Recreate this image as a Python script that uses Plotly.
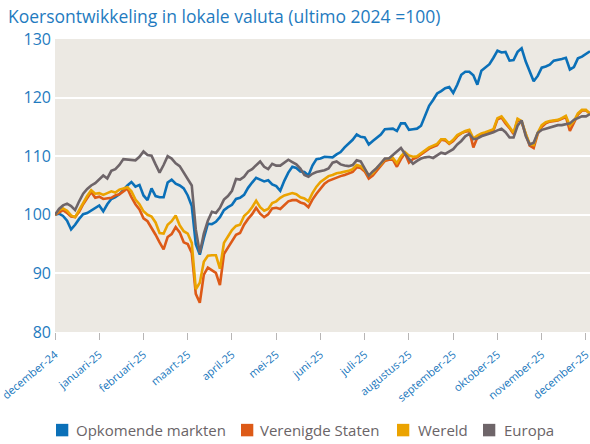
import plotly.graph_objects as go

# trading-day index (every 2nd trading day), 22 trading days per month tick
trading_day = list(range(0, 267, 2))

month_ticks = list(range(0, 265, 22))
month_labels = ["december-24", "januari-25", "februari-25", "maart-25", "april-25", "mei-25",
                "juni-25", "juli-25", "augustus-25", "september-25", "oktober-25",
                "november-25", "december-25"]

series_names = ["Opkomende markten", "Verenigde Staten", "Wereld", "Europa"]
series_colors = ["#0b70b8", "#dd5a17", "#eba300", "#6e6569"]

opkomende_markten = [
    100.0, 100.2, 99.8, 99.0, 97.5, 98.3, 99.3, 100.1, 100.3, 100.7,
    101.2, 101.6, 100.6, 101.8, 102.7, 103.0, 103.5, 104.3, 105.0, 105.6,
    104.8, 105.1, 103.3, 102.5, 104.5, 103.2, 103.0, 103.0, 105.5, 106.0,
    105.3, 105.0, 104.5, 103.3, 101.5, 95.0, 93.2, 96.0, 98.5, 98.4,
    98.8, 99.6, 100.8, 101.3, 101.7, 102.7, 102.9, 103.4, 104.6, 105.5,
    106.3, 106.0, 105.7, 105.9, 105.2, 104.9, 104.1, 105.8, 107.2, 108.2,
    108.0, 107.4, 107.3, 106.7, 108.4, 109.5, 109.6, 109.9, 109.9, 109.8,
    110.3, 110.7, 111.5, 112.2, 112.8, 113.7, 113.3, 113.2, 112.0, 112.6,
    113.2, 113.7, 114.6, 114.7, 114.7, 114.3, 115.6, 115.6, 114.5, 114.6,
    114.7, 115.2, 117.0, 118.6, 119.6, 120.7, 121.1, 121.6, 121.8, 120.8,
    122.2, 123.9, 124.4, 124.4, 123.8, 122.2, 124.6, 125.1, 125.7, 126.8,
    128.0, 127.7, 127.8, 126.3, 126.4, 127.8, 128.4, 126.2, 124.4, 122.8,
    123.7, 125.1, 125.3, 125.6, 126.3, 126.4, 126.6, 126.8, 124.8, 125.2,
    126.7, 127.0, 127.5, 127.9,
]

verenigde_staten = [
    100.0, 100.4, 100.8, 100.3, 99.7, 99.6, 100.5, 101.8, 102.9, 103.9,
    102.9, 103.1, 102.7, 102.8, 102.9, 103.3, 103.5, 104.0, 104.5, 103.0,
    101.8, 100.9, 99.4, 98.9, 97.8, 96.6, 95.3, 94.1, 96.2, 96.7,
    97.9, 97.0, 95.3, 95.0, 93.5, 86.5, 85.0, 89.8, 91.0, 90.6,
    90.1, 88.0, 93.3, 94.4, 95.5, 96.6, 96.9, 98.3, 99.3, 100.1,
    101.2, 100.2, 99.6, 100.1, 101.1, 101.2, 101.0, 101.6, 102.3, 102.5,
    102.5, 102.1, 101.9, 101.3, 102.6, 103.6, 104.4, 105.3, 105.8, 106.1,
    106.4, 106.6, 106.8, 107.0, 107.3, 108.1, 108.0, 107.4, 106.2, 106.7,
    107.6, 108.3, 109.2, 109.4, 109.4, 108.2, 109.5, 110.5, 108.9, 109.5,
    109.8, 110.3, 110.8, 111.3, 111.6, 111.9, 112.8, 112.7, 112.1, 112.6,
    113.4, 113.9, 114.2, 114.3, 111.5, 113.2, 113.6, 113.9, 114.2, 114.4,
    116.3, 116.6, 115.6, 114.8, 113.8, 116.2, 115.8, 113.7, 111.8, 111.4,
    113.8, 115.0, 115.6, 115.9, 116.0, 116.1, 116.4, 116.7, 114.3, 115.8,
    117.1, 117.8, 117.8, 117.3,
]

wereld = [
    100.0, 100.8, 101.1, 100.7, 99.9, 99.6, 100.8, 102.1, 103.2, 104.2,
    103.6, 103.7, 103.4, 103.7, 104.0, 103.8, 104.3, 104.5, 104.7, 104.0,
    102.6, 101.8, 100.6, 100.0, 99.7, 98.7, 96.9, 96.8, 98.3, 98.9,
    99.9, 98.2, 97.2, 96.8, 95.2, 87.3, 88.4, 92.0, 93.0, 93.1,
    93.1, 90.8, 95.2, 96.3, 97.4, 98.1, 98.3, 99.8, 100.4, 101.3,
    102.4, 101.3, 100.7, 101.0, 102.0, 102.3, 102.9, 103.3, 103.5, 103.7,
    103.5, 103.0, 102.8, 102.3, 103.7, 104.8, 105.6, 106.1, 106.6, 106.8,
    107.1, 107.2, 107.3, 107.5, 107.8, 108.5, 108.3, 107.7, 106.7, 107.1,
    108.0, 108.6, 109.5, 109.6, 109.7, 108.8, 110.0, 110.7, 110.1, 109.9,
    110.0, 110.5, 111.0, 111.5, 111.8, 112.1, 112.9, 112.9, 112.2, 112.8,
    113.6, 114.0, 114.3, 114.5, 113.0, 113.5, 113.9, 114.1, 114.4, 114.6,
    116.5, 116.8, 115.9, 115.0, 114.0, 116.4, 116.0, 113.9, 112.1, 111.9,
    114.0, 115.3, 115.8, 116.0, 116.1, 116.2, 116.5, 116.9, 115.2, 116.0,
    117.3, 117.9, 117.9, 117.2,
]

europa = [
    100.0, 101.0, 101.6, 101.9, 101.5, 100.8, 102.3, 103.6, 104.4, 105.0,
    105.4, 106.1, 106.7, 106.2, 107.5, 107.8, 108.5, 109.5, 109.4, 109.3,
    109.3, 109.9, 110.8, 110.2, 110.1, 108.6, 107.2, 108.5, 110.0, 109.6,
    108.8, 108.3, 107.2, 106.2, 105.0, 97.5, 93.5, 96.8, 99.0, 100.5,
    100.3, 101.2, 102.6, 103.2, 104.1, 106.1, 106.0, 106.5, 107.4, 107.8,
    108.5, 109.1, 108.2, 107.8, 108.7, 108.4, 108.4, 108.9, 109.4, 109.0,
    108.6, 107.9, 106.8, 106.5, 107.0, 107.3, 107.4, 107.6, 107.9, 108.9,
    109.1, 108.6, 108.4, 108.3, 108.5, 109.3, 109.1, 108.0, 106.7, 107.4,
    108.0, 108.8, 109.6, 109.6, 110.2, 110.7, 111.4, 110.4, 109.6, 108.7,
    109.2, 109.6, 109.8, 109.9, 109.7, 110.1, 110.6, 110.4, 110.8, 111.2,
    112.0, 112.6, 113.4, 113.8, 112.9, 113.0, 113.4, 113.6, 113.9, 114.1,
    114.4, 114.7, 114.1, 113.2, 113.2, 115.2, 116.1, 113.5, 112.0, 112.3,
    114.0, 114.5, 114.7, 114.9, 115.0, 115.3, 115.3, 115.4, 115.6, 116.2,
    116.5, 116.8, 116.8, 117.2,
]

all_series = [opkomende_markten, verenigde_staten, wereld, europa]

FONT = "Open Sans"
BLUE_TEXT = "#1f7bc0"

fig = go.Figure()
for name, color, values in zip(series_names, series_colors, all_series):
    fig.add_trace(go.Scatter(
        x=trading_day, y=values, mode="lines", name=name,
        line=dict(color=color, width=2.6), showlegend=False,
    ))

# Manual legend: squares + labels below the plot
legend_x = [(56, 74), (241, 258), (397, 416), (483, 501.5)]
L, R, T, B = 55, 590, 38.5, 332
W, H = R - L, B - T
for (sx, tx), name, color in zip(legend_x, series_names, series_colors):
    fig.add_shape(type="rect", xref="paper", yref="paper",
                  x0=(sx - L) / W, x1=(sx + 12.3 - L) / W,
                  y0=(B - 436.5) / H, y1=(B - 424) / H,
                  fillcolor=color, line=dict(width=0))
    fig.add_annotation(text=name, xref="paper", yref="paper",
                       x=(tx - L) / W, y=(B - 430.5) / H,
                       xanchor="left", yanchor="middle", showarrow=False,
                       font=dict(family=FONT, size=15, color="#6a6467"))

fig.update_layout(
    width=590, height=444,
    margin=dict(l=L, r=590 - R, t=T, b=444 - B, autoexpand=False),
    paper_bgcolor="white", plot_bgcolor="#ece9e3",
    title=dict(text="Koersontwikkeling in lokale valuta (ultimo 2024 =100)",
               x=8 / 590, xanchor="left", y=1 - 17 / 444, yanchor="middle",
               font=dict(family=FONT, size=17.5, color=BLUE_TEXT)),
    showlegend=False,
    xaxis=dict(range=[0, 266], tickvals=month_ticks, ticktext=month_labels,
               tickangle=-40, ticks="outside", ticklen=7, tickwidth=1.2,
               tickcolor="#b8b6b6", showgrid=False, zeroline=False,
               showline=False, automargin=False, ticklabeloverflow="allow",
               ticklabelstandoff=4,
               tickfont=dict(family=FONT, size=11, color="#1a78bd")),
    yaxis=dict(range=[80, 130], dtick=10, showgrid=True, gridcolor="white",
               gridwidth=2, zeroline=False, showline=False, ticks="",
               automargin=False, ticklabelstandoff=3,
               tickfont=dict(family=FONT, size=16, color=BLUE_TEXT)),
)

fig.write_html(
    "out.html",
    config={"displayModeBar": False},
    post_script="document.body.style.margin='0';document.body.style.overflow='hidden';",
)
